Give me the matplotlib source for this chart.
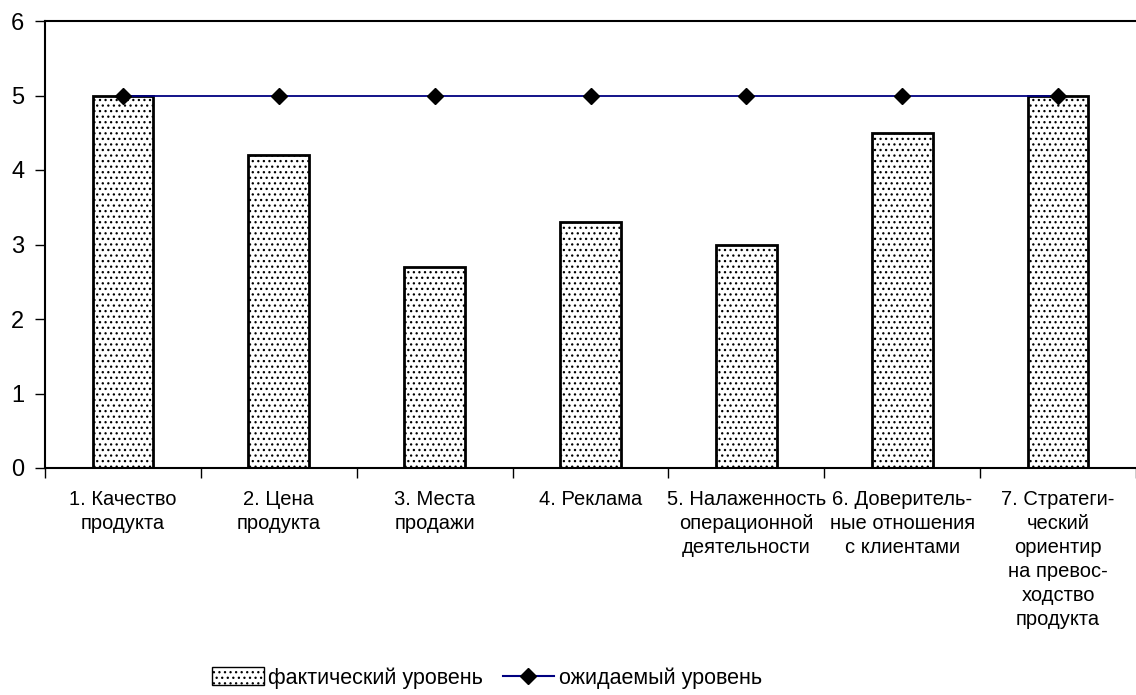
import matplotlib
matplotlib.use('Agg')
import matplotlib.pyplot as plt
from matplotlib.patches import Patch
from matplotlib.lines import Line2D
import numpy as np

categories = ['1. Качество\nпродукта', '2. Цена\nпродукта', '3. Места\nпродажи',
              '4. Реклама', '5. Налаженность\nоперационной\nдеятельности',
              '6. Доверитель-\nные отношения\nс клиентами',
              '7. Стратеги-\nческий\nориентир\nна превос-\nходство\nпродукта']
actual = [5.0, 4.2, 2.7, 3.3, 3.0, 4.5, 5.0]
expected = [5, 5, 5, 5, 5, 5, 5]
legend_labels = ['фактический уровень', 'ожидаемый уровень']

plt.rcParams['font.family'] = ['Liberation Sans', 'DejaVu Sans']
plt.rcParams['hatch.color'] = '#666666'
plt.rcParams['hatch.linewidth'] = 0.9

fig = plt.figure(figsize=(11.36, 6.95), dpi=100)
ax = fig.add_axes([45/1136, 1 - 468/695, 1 - 45/1136, (468 - 21)/695])

x = np.arange(len(categories))
ax.bar(x, actual, width=0.39, color='white', edgecolor='black', linewidth=2, hatch='...', zorder=2)
ax.plot(x, expected, color='#000080', linewidth=1.3, marker='D', markersize=8,
        markerfacecolor='black', markeredgecolor='black', zorder=3)

ax.set_xlim(-0.5, len(categories) - 0.5)
ax.set_ylim(0, 6)
ax.set_yticks(range(7))
ax.tick_params(axis='y', labelsize=17, length=7, width=1, direction='out', pad=8)

ax.set_xticks(np.arange(-0.5, len(categories)), labels=[])
ax.set_xticks(x, labels=categories, minor=True)
ax.tick_params(axis='x', which='major', length=7, width=1, direction='out')
ax.tick_params(axis='x', which='minor', length=0, labelsize=14.5, pad=16)
for lab in ax.get_xticklabels(minor=True):
    lab.set_linespacing(1.33)

for s in ['left', 'bottom', 'top']:
    ax.spines[s].set_linewidth(1.5)
ax.spines['right'].set_visible(False)

handles = [Patch(facecolor='white', edgecolor='black', hatch='...', linewidth=1),
           Line2D([], [], color='#000080', marker='D', markersize=8,
                  markerfacecolor='black', markeredgecolor='black')]
fig.legend(handles, legend_labels, loc='center', bbox_to_anchor=(487/1136, 1 - 678/695),
           ncol=2, frameon=False, fontsize=15.5, handlelength=2.4, handleheight=0.9,
           handletextpad=0.2, columnspacing=0.9)

fig.savefig('out.png', dpi=100)
